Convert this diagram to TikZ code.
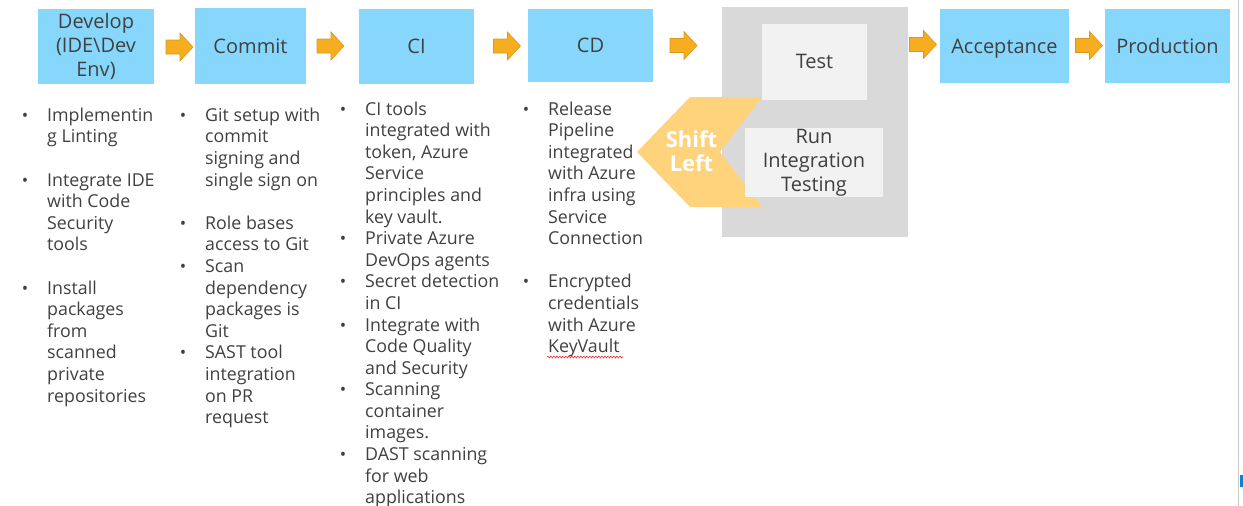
\documentclass[tikz,border=0pt]{standalone}
\usepackage{fontspec}
\setmainfont{Open Sans}
\usetikzlibrary{decorations.pathmorphing}

\definecolor{stage}{HTML}{87D7FC}
\definecolor{arrowfill}{HTML}{F6AD1F}
\definecolor{arrowline}{HTML}{D99A1C}
\definecolor{shiftfill}{HTML}{FFD37C}
\definecolor{panel}{HTML}{D9D9D9}
\definecolor{innerbox}{HTML}{F2F2F2}
\definecolor{ink}{HTML}{404040}
\definecolor{edgegray}{HTML}{C8C8C8}
\definecolor{edgeblue}{HTML}{0A84D8}

% bullet hanging to the left of an item's first line
\newcommand\itm{\llap{{\fontsize{17}{17}\selectfont •}\hspace{19pt}}}
\newcommand\listfont{\fontsize{17.8}{21.6}\selectfont}

\begin{document}
\begin{tikzpicture}[x=1pt,y=-1pt,
  stagebox/.style={fill=stage, text=ink, align=center, inner sep=0pt,
                   font=\fontsize{20}{24}\selectfont},
  testbox/.style={fill=innerbox, text=ink, align=center, inner sep=0pt,
                  font=\fontsize{20}{24}\selectfont},
  oneline/.style={text height=14.4pt, text depth=0pt},
  notes/.style={anchor=base west, inner sep=0pt, text=ink, font=\listfont},
  flowarrow/.pic={
    \filldraw[fill=arrowfill, draw=arrowline, line width=0.6pt]
      (-13.5,-7) -- (0.5,-7) -- (0.5,-14) -- (13.5,0) -- (0.5,14)
      -- (0.5,7) -- (-13.5,7) -- cycle;
  },
]
\useasboundingbox (0,0) rectangle (1243,506);

% pipeline stages
\node[stagebox, minimum width=116pt, minimum height=75pt] (dev) at (96,46.5)
  {Develop\\(IDE\textbackslash Dev\\Env)};
\node[stagebox, oneline, minimum width=111pt, minimum height=76pt] (commit) at (250.5,46) {Commit};
\node[stagebox, oneline, minimum width=115pt, minimum height=75pt] (ci) at (416.5,46.5) {CI};
\node[stagebox, oneline, minimum width=125pt, minimum height=73pt] (cd) at (590.5,45.5) {CD};

% test stage panel
\node[fill=panel, minimum width=186pt, minimum height=230pt, inner sep=0pt] (panel) at (815,122) {};
\node[testbox, oneline, minimum width=105pt, minimum height=76pt] (test) at (814.5,61.5) {Test};

% shift-left chevron
\fill[shiftfill] (690,97) -- (762,97) -- (720,152) -- (762,207) -- (690,207) -- (637,152) -- cycle;

\node[testbox, minimum width=138pt, minimum height=69pt] (run) at (814,162.5)
  {Run\\Integration\\Testing};
\node[text=white, align=center, inner sep=0pt,
      font=\bfseries\fontsize{22}{24}\selectfont] (shiftlbl) at (691.5,151) {Shift\\Left};

\node[stagebox, oneline, minimum width=129pt, minimum height=74pt] (acc) at (1004.5,46) {Acceptance};
\node[stagebox, oneline, minimum width=125pt, minimum height=74pt] (prod) at (1167.5,46) {Production};

% flow arrows between stages
\pic (a1) at (179.5,47) {flowarrow};
\pic (a2) at (330.5,46) {flowarrow};
\pic (a3) at (507,46) {flowarrow};
\pic (a4) at (683.5,45.5) {flowarrow};
\pic (a5) at (923,44.5) {flowarrow};
\pic (a6) at (1089,45.5) {flowarrow};

% notes under each stage
\node[notes] (devnotes) at (47,121.2) {\begin{tabular}[t]{@{}l@{}}
\itm Implementin\\
g Linting\\
\\
\itm Integrate IDE\\
with Code\\
Security\\
tools\\
\\
\itm Install\\
packages\\
from\\
scanned\\
private\\
repositories
\end{tabular}};

\node[notes] (commitnotes) at (205,121.2) {\begin{tabular}[t]{@{}l@{}}
\itm Git setup with\\
commit\\
signing and\\
single sign on\\
\\
\itm Role bases\\
access to Git\\
\itm Scan\\
dependency\\
packages is\\
Git\\
\itm SAST tool\\
integration\\
on PR\\
request
\end{tabular}};

\node[notes] (cinotes) at (365,115) {\begin{tabular}[t]{@{}l@{}}
\itm CI tools\\
integrated with\\
token, Azure\\
Service\\
principles and\\
key vault.\\
\itm Private Azure\\
DevOps agents\\
\itm Secret detection\\
in CI\\
\itm Integrate with\\
Code Quality\\
and Security\\
\itm Scanning\\
container\\
images.\\
\itm DAST scanning\\
for web\\
applications
\end{tabular}};

\node[notes] (cdnotes) at (548,115) {\begin{tabular}[t]{@{}l@{}}
\itm Release\\
Pipeline\\
integrated\\
with Azure\\
infra using\\
Service\\
Connection\\
\\
\itm Encrypted\\
credentials\\
with Azure\\
KeyVault
\end{tabular}};

% spelling mark under KeyVault
\coordinate (sq1) at (547,357);
\coordinate (sq2) at (623,357);
\draw[red!85!white, line width=0.6pt, decorate,
      decoration={snake, amplitude=0.9pt, segment length=3pt}] (sq1) -- (sq2);

% window edge
\coordinate (e1) at (1238.5,0);
\coordinate (e2) at (1238.5,506);
\draw[edgegray, line width=1.2pt] (e1) -- (e2);
\fill[edgeblue] (1240,475) rectangle (1243,487);
\end{tikzpicture}
\end{document}
